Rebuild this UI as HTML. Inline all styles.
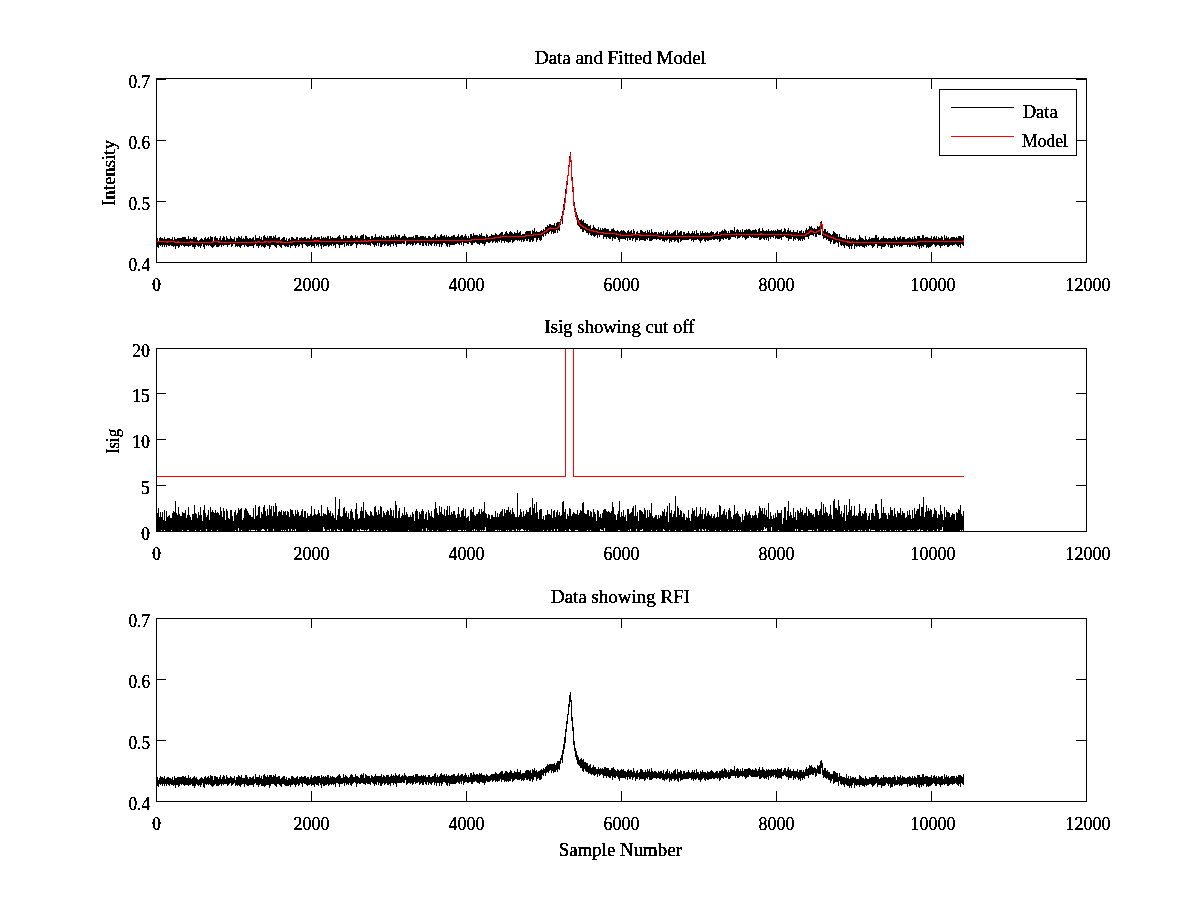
<!DOCTYPE html>
<html><head><meta charset="utf-8"><title>Data and Fitted Model</title>
<style>html,body{margin:0;padding:0;background:#fff;overflow:hidden}svg{display:block}</style></head>
<body>
<svg width="1200" height="900" viewBox="0 0 1200 900" style="font-family:'Liberation Serif','DejaVu Serif',serif;font-size:19px">
<defs><filter id="px" x="-5%" y="-20%" width="110%" height="140%" color-interpolation-filters="sRGB"><feComponentTransfer><feFuncA type="discrete" tableValues="0 0 0 1 1"/></feComponentTransfer></filter></defs>
<rect width="1200" height="900" fill="#fff"/>
<g id="ax1">
<path d="M156.5 241V245M157.5 238V247M158.5 241V248M159.5 238V245M160.5 237V246M161.5 238V245M162.5 238V247M163.5 239V245M164.5 237V247M165.5 239V245M166.5 239V247M167.5 238V245M168.5 238V246M169.5 238V246M170.5 239V245M171.5 239V246M172.5 237V246M173.5 240V247M174.5 237V246M175.5 239V249M176.5 239V246M177.5 238V246M178.5 238V248M179.5 238V247M180.5 238V245M181.5 238V246M182.5 237V245M183.5 237V246M184.5 237V247M185.5 237V246M186.5 239V246M187.5 239V246M188.5 236V247M189.5 239V246M190.5 238V246M191.5 239V245M192.5 239V247M193.5 237V247M194.5 237V249M195.5 238V247M196.5 237V245M197.5 240V246M198.5 241V247M199.5 240V246M200.5 239V248M201.5 238V246M202.5 239V244M203.5 240V247M204.5 238V249M205.5 237V245M206.5 239V246M207.5 238V245M208.5 237V246M209.5 239V245M210.5 236V246M211.5 237V247M212.5 237V248M213.5 241V247M214.5 237V246M215.5 236V245M216.5 238V247M217.5 238V247M218.5 240V247M219.5 238V246M220.5 236V245M221.5 240V247M222.5 238V245M223.5 236V246M224.5 237V245M225.5 240V245M226.5 236V245M227.5 238V247M228.5 239V245M229.5 239V245M230.5 236V244M231.5 238V247M232.5 239V246M233.5 239V244M234.5 237V244M235.5 241V247M236.5 238V246M237.5 238V247M238.5 236V246M239.5 237V247M240.5 238V248M241.5 236V246M242.5 239V245M243.5 238V245M244.5 239V247M245.5 236V245M246.5 236V246M247.5 238V247M248.5 239V247M249.5 238V246M250.5 238V246M251.5 239V246M252.5 238V246M253.5 237V248M254.5 240V245M255.5 235V244M256.5 238V246M257.5 238V246M258.5 238V248M259.5 236V246M260.5 239V245M261.5 237V247M262.5 240V246M263.5 236V247M264.5 235V248M265.5 237V247M266.5 238V245M267.5 236V246M268.5 238V246M269.5 236V249M270.5 236V247M271.5 236V245M272.5 238V245M273.5 236V245M274.5 237V246M275.5 235V247M276.5 238V248M277.5 238V245M278.5 237V245M279.5 237V246M280.5 240V247M281.5 239V248M282.5 238V245M283.5 237V245M284.5 237V246M285.5 240V247M286.5 238V246M287.5 241V247M288.5 239V247M289.5 238V245M290.5 240V248M291.5 237V246M292.5 237V246M293.5 238V245M294.5 239V246M295.5 239V248M296.5 237V246M297.5 237V245M298.5 240V247M299.5 238V246M300.5 238V244M301.5 237V245M302.5 238V248M303.5 238V244M304.5 237V244M305.5 237V245M306.5 239V246M307.5 238V247M308.5 238V246M309.5 239V246M310.5 237V245M311.5 235V247M312.5 239V246M313.5 238V246M314.5 237V248M315.5 237V244M316.5 238V246M317.5 237V245M318.5 237V247M319.5 237V244M320.5 239V246M321.5 236V249M322.5 238V245M323.5 237V247M324.5 238V246M325.5 237V246M326.5 238V246M327.5 236V245M328.5 236V247M329.5 239V246M330.5 236V245M331.5 238V246M332.5 237V244M333.5 238V246M334.5 238V245M335.5 238V248M336.5 238V244M337.5 237V244M338.5 236V245M339.5 235V248M340.5 237V245M341.5 239V245M342.5 239V245M343.5 235V244M344.5 238V247M345.5 236V243M346.5 236V246M347.5 238V245M348.5 238V246M349.5 238V244M350.5 236V246M351.5 235V246M352.5 236V245M353.5 238V244M354.5 238V243M355.5 235V244M356.5 237V248M357.5 236V245M358.5 238V244M359.5 238V244M360.5 236V245M361.5 235V244M362.5 235V244M363.5 234V245M364.5 239V244M365.5 235V245M366.5 236V244M367.5 237V245M368.5 237V245M369.5 237V245M370.5 239V246M371.5 236V243M372.5 236V244M373.5 238V245M374.5 237V247M375.5 234V245M376.5 237V246M377.5 237V243M378.5 237V246M379.5 236V243M380.5 237V247M381.5 235V247M382.5 238V245M383.5 236V244M384.5 237V246M385.5 238V245M386.5 236V244M387.5 236V246M388.5 236V246M389.5 238V245M390.5 237V247M391.5 235V244M392.5 237V244M393.5 235V246M394.5 237V243M395.5 234V245M396.5 236V247M397.5 237V244M398.5 235V244M399.5 235V244M400.5 238V244M401.5 237V244M402.5 236V243M403.5 236V244M404.5 234V244M405.5 236V241M406.5 237V246M407.5 238V245M408.5 237V244M409.5 237V244M410.5 237V245M411.5 237V244M412.5 237V246M413.5 236V245M414.5 238V243M415.5 235V245M416.5 235V244M417.5 235V243M418.5 237V243M419.5 237V245M420.5 236V245M421.5 236V243M422.5 236V246M423.5 236V246M424.5 237V243M425.5 236V245M426.5 238V246M427.5 238V243M428.5 236V246M429.5 236V244M430.5 237V245M431.5 238V246M432.5 237V244M433.5 237V243M434.5 235V246M435.5 234V244M436.5 238V246M437.5 236V244M438.5 237V244M439.5 237V247M440.5 235V244M441.5 234V247M442.5 236V245M443.5 236V243M444.5 235V243M445.5 237V244M446.5 235V246M447.5 237V247M448.5 236V244M449.5 237V247M450.5 237V245M451.5 236V245M452.5 236V245M453.5 235V245M454.5 235V245M455.5 237V244M456.5 237V244M457.5 236V243M458.5 234V244M459.5 237V245M460.5 236V243M461.5 235V245M462.5 235V242M463.5 237V246M464.5 236V243M465.5 234V243M466.5 236V243M467.5 238V244M468.5 236V244M469.5 238V242M470.5 234V243M471.5 234V245M472.5 236V245M473.5 233V243M474.5 235V243M475.5 235V242M476.5 235V243M477.5 235V244M478.5 236V244M479.5 234V245M480.5 235V243M481.5 233V243M482.5 236V244M483.5 236V244M484.5 236V246M485.5 237V244M486.5 234V242M487.5 235V242M488.5 237V243M489.5 236V243M490.5 236V242M491.5 234V241M492.5 235V243M493.5 235V242M494.5 235V241M495.5 233V243M496.5 234V242M497.5 235V243M498.5 235V241M499.5 234V242M500.5 233V240M501.5 232V243M502.5 232V241M503.5 235V241M504.5 234V243M505.5 232V241M506.5 231V242M507.5 233V242M508.5 234V243M509.5 232V242M510.5 231V242M511.5 232V240M512.5 233V243M513.5 234V242M514.5 232V241M515.5 233V240M516.5 233V240M517.5 230V241M518.5 233V240M519.5 232V241M520.5 231V240M521.5 235V242M522.5 234V240M523.5 234V242M524.5 234V241M525.5 232V239M526.5 231V241M527.5 231V241M528.5 231V239M529.5 231V242M530.5 231V242M531.5 234V240M532.5 230V242M533.5 231V241M534.5 228V238M535.5 232V238M536.5 231V242M537.5 232V240M538.5 232V238M539.5 232V240M540.5 231V241M541.5 230V240M542.5 231V236M543.5 229V237M544.5 230V234M545.5 227V236M546.5 227V234M547.5 225V233M548.5 226V234M549.5 224V232M550.5 224V231M551.5 225V234M552.5 225V232M553.5 225V234M554.5 223V233M555.5 226V233M556.5 223V230M557.5 222V233M558.5 222V230M559.5 222V231M560.5 219V225M561.5 216V221M562.5 211V224M563.5 204V215M564.5 198V210M565.5 189V203M566.5 181V193M567.5 175V185M568.5 165V176M569.5 156V167M570.5 152V162M571.5 160V181M572.5 177V192M573.5 187V206M574.5 202V212M575.5 208V217M576.5 212V220M577.5 215V225M578.5 218V226M579.5 220V227M580.5 220V229M581.5 219V229M582.5 221V232M583.5 220V232M584.5 223V230M585.5 223V231M586.5 224V233M587.5 224V233M588.5 226V235M589.5 226V233M590.5 225V235M591.5 229V236M592.5 228V235M593.5 225V236M594.5 227V237M595.5 228V236M596.5 229V235M597.5 229V238M598.5 227V235M599.5 230V237M600.5 228V235M601.5 230V235M602.5 228V235M603.5 229V239M604.5 228V237M605.5 228V237M606.5 229V239M607.5 229V237M608.5 229V238M609.5 231V239M610.5 231V239M611.5 229V237M612.5 229V241M613.5 228V238M614.5 230V239M615.5 231V239M616.5 231V237M617.5 230V238M618.5 231V240M619.5 232V242M620.5 231V239M621.5 230V239M622.5 231V239M623.5 230V239M624.5 231V239M625.5 232V240M626.5 233V238M627.5 231V241M628.5 230V238M629.5 232V240M630.5 231V240M631.5 230V238M632.5 233V241M633.5 229V239M634.5 231V238M635.5 234V242M636.5 232V240M637.5 231V240M638.5 233V238M639.5 233V241M640.5 230V240M641.5 230V240M642.5 231V240M643.5 232V240M644.5 232V241M645.5 231V241M646.5 233V239M647.5 230V240M648.5 232V238M649.5 230V241M650.5 233V241M651.5 229V241M652.5 232V240M653.5 233V239M654.5 232V239M655.5 232V239M656.5 232V240M657.5 234V239M658.5 232V239M659.5 233V240M660.5 232V240M661.5 232V239M662.5 234V241M663.5 231V241M664.5 235V242M665.5 233V240M666.5 232V241M667.5 230V240M668.5 234V239M669.5 232V243M670.5 234V241M671.5 233V242M672.5 233V240M673.5 232V240M674.5 231V242M675.5 230V241M676.5 235V240M677.5 230V242M678.5 233V243M679.5 232V239M680.5 231V242M681.5 231V241M682.5 235V240M683.5 232V240M684.5 232V240M685.5 234V240M686.5 233V240M687.5 233V240M688.5 231V240M689.5 233V239M690.5 234V239M691.5 233V241M692.5 231V240M693.5 233V242M694.5 231V240M695.5 234V240M696.5 230V240M697.5 233V239M698.5 233V240M699.5 235V241M700.5 231V243M701.5 233V241M702.5 231V240M703.5 233V239M704.5 233V241M705.5 232V242M706.5 233V240M707.5 232V241M708.5 233V241M709.5 233V240M710.5 232V240M711.5 231V240M712.5 232V239M713.5 232V240M714.5 234V240M715.5 233V239M716.5 232V239M717.5 231V240M718.5 234V239M719.5 232V242M720.5 232V241M721.5 231V239M722.5 230V239M723.5 231V240M724.5 229V238M725.5 230V239M726.5 231V239M727.5 233V238M728.5 231V240M729.5 233V240M730.5 230V239M731.5 230V237M732.5 230V237M733.5 231V237M734.5 227V237M735.5 232V238M736.5 230V236M737.5 229V239M738.5 230V238M739.5 232V238M740.5 230V237M741.5 232V236M742.5 229V238M743.5 232V237M744.5 230V238M745.5 230V240M746.5 229V239M747.5 230V238M748.5 229V238M749.5 229V236M750.5 230V237M751.5 231V238M752.5 230V237M753.5 230V238M754.5 230V238M755.5 229V238M756.5 230V238M757.5 232V238M758.5 229V237M759.5 228V240M760.5 231V240M761.5 231V239M762.5 228V238M763.5 230V239M764.5 231V240M765.5 231V238M766.5 230V240M767.5 231V238M768.5 229V241M769.5 231V237M770.5 231V239M771.5 230V237M772.5 231V237M773.5 230V238M774.5 231V236M775.5 230V239M776.5 231V238M777.5 229V239M778.5 230V239M779.5 230V239M780.5 230V238M781.5 229V240M782.5 232V237M783.5 231V237M784.5 228V236M785.5 229V237M786.5 232V238M787.5 230V238M788.5 228V241M789.5 231V239M790.5 230V239M791.5 232V239M792.5 232V237M793.5 230V241M794.5 232V239M795.5 232V240M796.5 232V238M797.5 230V239M798.5 233V241M799.5 231V240M800.5 231V241M801.5 230V239M802.5 233V241M803.5 231V239M804.5 233V240M805.5 230V237M806.5 228V237M807.5 230V237M808.5 229V239M809.5 226V236M810.5 227V235M811.5 226V235M812.5 228V235M813.5 229V236M814.5 228V234M815.5 229V237M816.5 229V237M817.5 226V234M818.5 227V235M819.5 226V235M820.5 222V235M821.5 221V229M822.5 224V236M823.5 231V239M824.5 229V238M825.5 229V238M826.5 232V240M827.5 231V239M828.5 233V241M829.5 233V241M830.5 234V244M831.5 235V242M832.5 234V240M833.5 231V244M834.5 232V244M835.5 233V243M836.5 234V242M837.5 234V243M838.5 237V247M839.5 234V242M840.5 237V245M841.5 237V246M842.5 238V245M843.5 238V246M844.5 238V248M845.5 239V245M846.5 235V246M847.5 239V246M848.5 237V247M849.5 239V249M850.5 237V246M851.5 239V249M852.5 238V246M853.5 238V244M854.5 239V249M855.5 238V246M856.5 240V247M857.5 240V246M858.5 239V246M859.5 235V247M860.5 237V246M861.5 238V246M862.5 238V247M863.5 239V247M864.5 240V248M865.5 236V246M866.5 239V247M867.5 240V245M868.5 239V246M869.5 237V245M870.5 239V245M871.5 238V246M872.5 238V248M873.5 238V247M874.5 238V246M875.5 235V244M876.5 235V244M877.5 238V248M878.5 237V246M879.5 240V246M880.5 239V246M881.5 238V249M882.5 238V247M883.5 236V247M884.5 238V247M885.5 238V246M886.5 238V244M887.5 239V245M888.5 238V247M889.5 238V245M890.5 238V248M891.5 239V248M892.5 238V248M893.5 238V245M894.5 236V247M895.5 238V245M896.5 240V246M897.5 237V246M898.5 238V245M899.5 237V247M900.5 236V246M901.5 239V247M902.5 237V246M903.5 237V245M904.5 237V245M905.5 239V245M906.5 239V245M907.5 238V247M908.5 238V245M909.5 237V247M910.5 238V247M911.5 239V245M912.5 237V246M913.5 239V245M914.5 236V246M915.5 238V246M916.5 239V247M917.5 236V245M918.5 236V247M919.5 236V249M920.5 238V246M921.5 238V248M922.5 235V246M923.5 235V247M924.5 238V245M925.5 237V245M926.5 237V248M927.5 237V247M928.5 238V248M929.5 238V247M930.5 238V247M931.5 236V246M932.5 239V245M933.5 237V244M934.5 236V245M935.5 238V247M936.5 236V246M937.5 239V245M938.5 237V245M939.5 238V246M940.5 238V248M941.5 236V246M942.5 237V246M943.5 240V245M944.5 235V246M945.5 238V245M946.5 236V245M947.5 238V247M948.5 237V247M949.5 239V246M950.5 238V245M951.5 237V245M952.5 237V246M953.5 237V245M954.5 237V245M955.5 238V244M956.5 237V245M957.5 238V246M958.5 236V247M959.5 236V245M960.5 236V248M961.5 237V244M962.5 238V245M963.5 235V246" stroke="#000" stroke-width="1" fill="none" shape-rendering="crispEdges"/>
<path d="M156.5 241V242M157.5 241V242M158.5 241V242M159.5 241V242M160.5 241V242M161.5 241V242M162.5 241V242M163.5 241V242M164.5 241V242M165.5 241V242M166.5 241V243M167.5 241V243M168.5 241V242M169.5 241V242M170.5 241V242M171.5 241V242M172.5 241V242M173.5 241V242M174.5 241V243M175.5 242V243M176.5 242V243M177.5 241V243M178.5 241V243M179.5 242V243M180.5 242V243M181.5 242V243M182.5 242V243M183.5 242V243M184.5 242V243M185.5 242V243M186.5 242V243M187.5 242V243M188.5 242V243M189.5 242V243M190.5 241V243M191.5 241V243M192.5 241V243M193.5 242V243M194.5 242V243M195.5 242V243M196.5 242V243M197.5 242V243M198.5 242V243M199.5 242V243M200.5 242V243M201.5 242V243M202.5 242V243M203.5 242V243M204.5 242V243M205.5 242V243M206.5 242V243M207.5 242V243M208.5 242V243M209.5 242V243M210.5 242V243M211.5 242V243M212.5 241V243M213.5 241V242M214.5 241V242M215.5 241V242M216.5 241V242M217.5 241V242M218.5 241V243M219.5 241V243M220.5 242V243M221.5 242V243M222.5 242V243M223.5 242V243M224.5 242V243M225.5 242V243M226.5 242V243M227.5 242V243M228.5 242V243M229.5 242V243M230.5 242V243M231.5 242V243M232.5 242V243M233.5 242V243M234.5 242V243M235.5 242V243M236.5 242V243M237.5 242V243M238.5 242V243M239.5 242V243M240.5 242V243M241.5 242V243M242.5 242V243M243.5 242V243M244.5 242V243M245.5 242V243M246.5 242V243M247.5 242V243M248.5 242V243M249.5 242V243M250.5 242V243M251.5 242V243M252.5 242V243M253.5 242V243M254.5 242V243M255.5 241V243M256.5 242V243M257.5 241V243M258.5 241V242M259.5 241V243M260.5 242V243M261.5 242V243M262.5 242V243M263.5 242V243M264.5 241V243M265.5 241V243M266.5 241V242M267.5 241V242M268.5 241V243M269.5 242V243M270.5 241V243M271.5 241V242M272.5 241V242M273.5 241V242M274.5 241V242M275.5 241V242M276.5 241V243M277.5 241V243M278.5 241V243M279.5 241V242M280.5 241V243M281.5 241V243M282.5 242V243M283.5 242V243M284.5 242V243M285.5 242V243M286.5 242V243M287.5 242V243M288.5 242V243M289.5 242V243M290.5 241V243M291.5 242V243M292.5 241V243M293.5 241V242M294.5 241V242M295.5 241V242M296.5 241V242M297.5 241V242M298.5 241V242M299.5 241V242M300.5 241V242M301.5 241V242M302.5 241V242M303.5 241V242M304.5 241V242M305.5 241V242M306.5 241V242M307.5 241V242M308.5 241V242M309.5 241V242M310.5 241V242M311.5 241V242M312.5 241V242M313.5 241V242M314.5 240V242M315.5 240V242M316.5 240V242M317.5 240V242M318.5 240V242M319.5 241V242M320.5 241V242M321.5 241V242M322.5 241V242M323.5 241V242M324.5 241V242M325.5 241V242M326.5 241V242M327.5 241V242M328.5 241V242M329.5 241V242M330.5 241V242M331.5 241V242M332.5 241V242M333.5 241V242M334.5 241V242M335.5 241V242M336.5 241V242M337.5 241V242M338.5 241V242M339.5 241V242M340.5 241V242M341.5 241V242M342.5 241V242M343.5 241V242M344.5 241V242M345.5 241V242M346.5 241V242M347.5 241V242M348.5 241V242M349.5 241V242M350.5 241V242M351.5 241V242M352.5 241V242M353.5 241V242M354.5 241V242M355.5 241V242M356.5 240V242M357.5 241V242M358.5 241V242M359.5 241V242M360.5 241V242M361.5 240V242M362.5 241V242M363.5 241V242M364.5 240V242M365.5 240V242M366.5 241V242M367.5 241V242M368.5 240V242M369.5 240V241M370.5 240V242M371.5 240V241M372.5 240V241M373.5 240V241M374.5 240V241M375.5 240V241M376.5 240V241M377.5 240V241M378.5 240V241M379.5 240V241M380.5 240V241M381.5 240V241M382.5 240V241M383.5 240V241M384.5 240V241M385.5 240V241M386.5 240V241M387.5 240V241M388.5 240V241M389.5 240V241M390.5 240V241M391.5 240V241M392.5 240V241M393.5 240V241M394.5 240V241M395.5 240V241M396.5 240V241M397.5 240V241M398.5 240V241M399.5 240V241M400.5 240V241M401.5 240V241M402.5 240V241M403.5 240V241M404.5 240V241M405.5 240V241M406.5 240V241M407.5 240V241M408.5 240V241M409.5 240V241M410.5 240V241M411.5 240V241M412.5 240V241M413.5 240V241M414.5 240V241M415.5 240V241M416.5 240V241M417.5 240V241M418.5 240V241M419.5 240V241M420.5 240V241M421.5 240V241M422.5 240V241M423.5 240V241M424.5 240V241M425.5 240V241M426.5 240V241M427.5 240V241M428.5 240V241M429.5 240V241M430.5 240V241M431.5 240V241M432.5 240V241M433.5 240V241M434.5 240V241M435.5 240V241M436.5 240V241M437.5 240V241M438.5 240V241M439.5 240V241M440.5 240V241M441.5 240V241M442.5 240V241M443.5 240V241M444.5 240V241M445.5 240V241M446.5 240V241M447.5 240V241M448.5 240V241M449.5 240V241M450.5 240V241M451.5 240V241M452.5 240V241M453.5 240V241M454.5 240V241M455.5 240V241M456.5 240V241M457.5 240V241M458.5 240V241M459.5 240V241M460.5 240V241M461.5 240V241M462.5 240V241M463.5 240V241M464.5 240V241M465.5 240V241M466.5 240V241M467.5 240V241M468.5 240V241M469.5 240V241M470.5 240V241M471.5 239V241M472.5 239V240M473.5 239V240M474.5 239V240M475.5 239V240M476.5 239V240M477.5 239V240M478.5 239V240M479.5 239V240M480.5 239V240M481.5 239V240M482.5 239V240M483.5 239V240M484.5 239V240M485.5 238V240M486.5 238V239M487.5 238V239M488.5 238V239M489.5 238V239M490.5 238V239M491.5 238V239M492.5 238V239M493.5 238V239M494.5 237V239M495.5 237V238M496.5 237V238M497.5 237V238M498.5 237V238M499.5 237V238M500.5 236V238M501.5 236V237M502.5 236V237M503.5 236V237M504.5 236V237M505.5 236V237M506.5 236V237M507.5 236V237M508.5 236V237M509.5 236V237M510.5 236V237M511.5 236V237M512.5 236V237M513.5 236V237M514.5 236V237M515.5 236V237M516.5 236V237M517.5 236V237M518.5 236V237M519.5 236V237M520.5 236V237M521.5 236V237M522.5 236V237M523.5 236V237M524.5 236V237M525.5 235V237M526.5 235V236M527.5 235V236M528.5 235V236M529.5 235V236M530.5 235V236M531.5 235V236M532.5 235V236M533.5 234V236M534.5 234V235M535.5 234V235M536.5 234V235M537.5 234V235M538.5 234V235M539.5 234V235M540.5 234V235M541.5 233V235M542.5 233V234M543.5 232V234M544.5 231V233M545.5 231V232M546.5 230V232M547.5 229V231M548.5 228V230M549.5 228V229M550.5 227V229M551.5 228V229M552.5 228V229M553.5 228V229M554.5 228V229M555.5 228V229M556.5 228V229M557.5 227V229M558.5 226V228M559.5 223V227M560.5 220V224M561.5 218V221M562.5 213V219M563.5 207V214M564.5 202V208M565.5 193V203M566.5 182V194M567.5 175V183M568.5 166V176M569.5 158V167M570.5 153V161M571.5 160V181M572.5 179V190M573.5 188V205M574.5 204V211M575.5 210V216M576.5 215V220M577.5 219V221M578.5 220V223M579.5 222V225M580.5 224V226M581.5 225V226M582.5 225V227M583.5 226V228M584.5 227V228M585.5 227V229M586.5 228V230M587.5 229V230M588.5 229V230M589.5 229V231M590.5 230V231M591.5 230V231M592.5 230V231M593.5 230V232M594.5 231V232M595.5 231V232M596.5 231V232M597.5 231V233M598.5 232V233M599.5 232V233M600.5 232V233M601.5 232V233M602.5 232V233M603.5 232V234M604.5 233V234M605.5 233V234M606.5 233V234M607.5 233V234M608.5 233V234M609.5 233V234M610.5 233V234M611.5 233V234M612.5 233V234M613.5 233V234M614.5 233V234M615.5 233V234M616.5 233V235M617.5 234V235M618.5 234V235M619.5 234V235M620.5 234V236M621.5 235V236M622.5 235V236M623.5 235V236M624.5 235V236M625.5 235V236M626.5 235V236M627.5 235V236M628.5 235V236M629.5 235V236M630.5 235V236M631.5 234V236M632.5 234V236M633.5 234V235M634.5 234V235M635.5 234V235M636.5 234V235M637.5 234V235M638.5 234V235M639.5 234V236M640.5 234V236M641.5 235V236M642.5 235V236M643.5 235V236M644.5 235V236M645.5 235V236M646.5 235V236M647.5 235V236M648.5 235V236M649.5 235V236M650.5 235V236M651.5 235V236M652.5 235V236M653.5 235V236M654.5 235V236M655.5 235V236M656.5 235V236M657.5 235V236M658.5 235V237M659.5 236V237M660.5 236V237M661.5 236V237M662.5 236V237M663.5 236V237M664.5 236V237M665.5 236V237M666.5 236V237M667.5 236V237M668.5 236V237M669.5 236V237M670.5 236V237M671.5 236V237M672.5 236V237M673.5 236V237M674.5 236V237M675.5 236V237M676.5 236V237M677.5 236V237M678.5 236V237M679.5 236V237M680.5 236V237M681.5 236V237M682.5 236V237M683.5 236V237M684.5 236V237M685.5 236V237M686.5 236V237M687.5 236V237M688.5 236V237M689.5 236V237M690.5 236V237M691.5 236V237M692.5 236V237M693.5 236V237M694.5 236V237M695.5 236V237M696.5 236V237M697.5 236V237M698.5 236V237M699.5 236V237M700.5 236V237M701.5 236V237M702.5 236V237M703.5 236V237M704.5 236V237M705.5 236V237M706.5 236V237M707.5 236V237M708.5 236V237M709.5 236V237M710.5 236V237M711.5 236V237M712.5 235V237M713.5 235V236M714.5 235V236M715.5 235V236M716.5 235V236M717.5 235V236M718.5 235V236M719.5 235V236M720.5 234V236M721.5 234V235M722.5 234V235M723.5 234V235M724.5 234V235M725.5 234V235M726.5 234V235M727.5 234V235M728.5 234V235M729.5 234V235M730.5 234V235M731.5 234V235M732.5 234V235M733.5 234V235M734.5 234V235M735.5 234V235M736.5 233V235M737.5 234V235M738.5 234V235M739.5 234V235M740.5 234V235M741.5 234V235M742.5 234V235M743.5 234V235M744.5 234V235M745.5 234V235M746.5 234V235M747.5 234V235M748.5 234V235M749.5 234V235M750.5 234V235M751.5 234V235M752.5 234V235M753.5 234V235M754.5 234V235M755.5 234V235M756.5 234V235M757.5 234V235M758.5 234V235M759.5 234V235M760.5 233V235M761.5 233V235M762.5 234V235M763.5 234V235M764.5 234V235M765.5 234V235M766.5 234V235M767.5 234V235M768.5 234V235M769.5 234V235M770.5 234V235M771.5 234V235M772.5 234V235M773.5 234V235M774.5 234V235M775.5 234V235M776.5 234V235M777.5 234V235M778.5 234V235M779.5 234V235M780.5 234V235M781.5 234V235M782.5 234V235M783.5 234V235M784.5 234V235M785.5 234V235M786.5 234V235M787.5 234V235M788.5 234V235M789.5 234V235M790.5 234V235M791.5 234V236M792.5 235V236M793.5 235V236M794.5 235V236M795.5 235V236M796.5 235V236M797.5 235V236M798.5 235V236M799.5 235V236M800.5 235V236M801.5 235V236M802.5 235V236M803.5 235V236M804.5 235V236M805.5 234V236M806.5 233V235M807.5 233V234M808.5 232V234M809.5 231V233M810.5 230V232M811.5 230V232M812.5 231V232M813.5 231V233M814.5 232V233M815.5 232V233M816.5 231V233M817.5 231V232M818.5 230V232M819.5 230V231M820.5 223V231M821.5 223V225M822.5 224V234M823.5 233V235M824.5 234V235M825.5 234V236M826.5 235V236M827.5 235V237M828.5 236V237M829.5 236V237M830.5 236V238M831.5 237V238M832.5 237V238M833.5 237V239M834.5 238V239M835.5 238V240M836.5 239V240M837.5 239V240M838.5 239V240M839.5 239V241M840.5 240V241M841.5 240V241M842.5 240V241M843.5 240V242M844.5 241V242M845.5 241V242M846.5 241V242M847.5 241V243M848.5 241V243M849.5 241V243M850.5 242V243M851.5 242V243M852.5 241V243M853.5 242V243M854.5 242V243M855.5 242V243M856.5 242V243M857.5 242V243M858.5 242V243M859.5 242V243M860.5 242V243M861.5 242V243M862.5 242V243M863.5 242V243M864.5 242V243M865.5 242V243M866.5 242V243M867.5 242V243M868.5 242V243M869.5 242V243M870.5 242V243M871.5 242V243M872.5 242V243M873.5 242V243M874.5 242V243M875.5 242V243M876.5 242V243M877.5 242V243M878.5 242V243M879.5 242V243M880.5 242V243M881.5 242V243M882.5 242V243M883.5 242V243M884.5 242V243M885.5 242V243M886.5 242V243M887.5 242V243M888.5 242V243M889.5 242V243M890.5 242V243M891.5 242V243M892.5 242V243M893.5 242V243M894.5 242V243M895.5 242V243M896.5 242V243M897.5 242V243M898.5 242V243M899.5 242V243M900.5 242V243M901.5 242V243M902.5 242V243M903.5 242V243M904.5 242V243M905.5 242V243M906.5 242V243M907.5 242V243M908.5 242V243M909.5 242V243M910.5 242V243M911.5 242V243M912.5 242V243M913.5 242V243M914.5 242V243M915.5 242V243M916.5 242V243M917.5 241V243M918.5 241V242M919.5 241V242M920.5 241V242M921.5 241V242M922.5 241V242M923.5 241V242M924.5 241V242M925.5 241V242M926.5 241V242M927.5 241V242M928.5 241V242M929.5 241V242M930.5 241V242M931.5 241V242M932.5 241V242M933.5 241V242M934.5 241V242M935.5 241V242M936.5 241V242M937.5 241V242M938.5 241V242M939.5 241V242M940.5 241V242M941.5 241V242M942.5 241V242M943.5 241V242M944.5 241V242M945.5 241V242M946.5 241V242M947.5 241V242M948.5 241V242M949.5 241V242M950.5 241V242M951.5 241V242M952.5 241V242M953.5 241V242M954.5 241V242M955.5 241V242M956.5 241V242M957.5 241V242M958.5 241V242M959.5 241V242M960.5 241V242M961.5 241V242M962.5 241V242M963.5 240V242" stroke="#f00" stroke-width="1" fill="none" shape-rendering="crispEdges"/>
<path d="M156.5 78V263M1086.5 78V263M156 78.5H1087M156 262.5H1087M311.5 263V252M311.5 78V89M466.5 263V252M466.5 78V89M621.5 263V252M621.5 78V89M776.5 263V252M776.5 78V89M931.5 263V252M931.5 78V89M156 140.5H166M1087 140.5H1076M156 201.5H166M1087 201.5H1076M156 79.5H166M1087 79.5H1076" stroke="#000" stroke-width="1" fill="none" shape-rendering="crispEdges"/>
<g filter="url(#px)" stroke="#000" stroke-width="0.5">
<text x="156.5" y="291" text-anchor="middle" textLength="9" lengthAdjust="spacingAndGlyphs">0</text><text x="311.5" y="291" text-anchor="middle" textLength="36" lengthAdjust="spacingAndGlyphs">2000</text><text x="466.5" y="291" text-anchor="middle" textLength="36" lengthAdjust="spacingAndGlyphs">4000</text><text x="621.5" y="291" text-anchor="middle" textLength="36" lengthAdjust="spacingAndGlyphs">6000</text><text x="776.5" y="291" text-anchor="middle" textLength="36" lengthAdjust="spacingAndGlyphs">8000</text><text x="933.1" y="291" text-anchor="middle" textLength="45" lengthAdjust="spacingAndGlyphs">10000</text><text x="1088.1" y="291" text-anchor="middle" textLength="45" lengthAdjust="spacingAndGlyphs">12000</text>
<text x="150" y="88" text-anchor="end" textLength="21.5" lengthAdjust="spacingAndGlyphs">0.7</text><text x="150" y="149" text-anchor="end" textLength="21.5" lengthAdjust="spacingAndGlyphs">0.6</text><text x="150" y="210" text-anchor="end" textLength="21.5" lengthAdjust="spacingAndGlyphs">0.5</text><text x="150" y="271" text-anchor="end" textLength="21.5" lengthAdjust="spacingAndGlyphs">0.4</text>
<text x="620.5" y="64" text-anchor="middle" textLength="171" lengthAdjust="spacingAndGlyphs">Data and Fitted Model</text>
<text transform="translate(115 173) rotate(-90)" text-anchor="middle" textLength="66" lengthAdjust="spacingAndGlyphs">Intensity</text>
</g>
<rect x="939.5" y="89.5" width="137" height="66" fill="#fff" stroke="#000" stroke-width="1" shape-rendering="crispEdges"/>
<path d="M951 107.5H1014" stroke="#000" stroke-width="1" shape-rendering="crispEdges"/>
<path d="M951 136.5H1014" stroke="#f00" stroke-width="1" shape-rendering="crispEdges"/>
<g filter="url(#px)" stroke="#000" stroke-width="0.5"><text x="1022.7" y="118" textLength="35" lengthAdjust="spacingAndGlyphs">Data</text><text x="1022" y="147" textLength="46" lengthAdjust="spacingAndGlyphs">Model</text></g>
</g>
<g id="ax2">
<path d="M156.5 522V532M157.5 513V531M158.5 508V531M159.5 517V531M160.5 512V531M161.5 517V530M162.5 512V531M163.5 520V532M164.5 510V530M165.5 521V531M166.5 511V531M167.5 517V531M168.5 516V532M169.5 515V531M170.5 518V531M171.5 518V530M172.5 513V532M173.5 511V531M174.5 512V531M175.5 501V532M176.5 513V531M177.5 515V532M178.5 507V532M179.5 514V531M180.5 516V531M181.5 516V532M182.5 512V530M183.5 513V531M184.5 513V531M185.5 510V531M186.5 518V531M187.5 515V530M188.5 507V530M189.5 515V531M190.5 517V532M191.5 520V531M192.5 514V531M193.5 514V531M194.5 505V531M195.5 513V530M196.5 514V531M197.5 518V532M198.5 512V531M199.5 515V531M200.5 507V530M201.5 515V531M202.5 521V531M203.5 510V531M204.5 505V532M205.5 513V531M206.5 517V529M207.5 515V531M208.5 510V531M209.5 520V531M210.5 507V531M211.5 512V530M212.5 510V531M213.5 512V531M214.5 513V531M215.5 510V531M216.5 513V531M217.5 512V530M218.5 513V531M219.5 515V531M220.5 507V531M221.5 511V531M222.5 517V531M223.5 508V531M224.5 511V532M225.5 520V531M226.5 509V531M227.5 511V531M228.5 518V531M229.5 519V531M230.5 510V531M231.5 510V531M232.5 516V531M233.5 521V531M234.5 512V531M235.5 510V530M236.5 515V531M237.5 513V531M238.5 508V528M239.5 510V531M240.5 509V532M241.5 508V530M242.5 520V531M243.5 518V531M244.5 510V531M245.5 508V532M246.5 509V531M247.5 511V531M248.5 513V532M249.5 515V530M250.5 515V531M251.5 517V530M252.5 517V530M253.5 508V530M254.5 519V530M255.5 505V531M256.5 516V530M257.5 515V531M258.5 507V531M259.5 506V531M260.5 518V531M261.5 512V530M262.5 514V529M263.5 507V529M264.5 505V530M265.5 511V531M266.5 516V531M267.5 509V529M268.5 515V531M269.5 505V531M270.5 509V531M271.5 506V531M272.5 516V531M273.5 506V529M274.5 512V531M275.5 503V531M276.5 506V532M277.5 516V531M278.5 512V532M279.5 511V531M280.5 512V531M281.5 510V530M282.5 515V531M283.5 511V530M284.5 512V531M285.5 511V530M286.5 515V531M287.5 511V532M288.5 512V529M289.5 517V531M290.5 509V531M291.5 510V529M292.5 510V531M293.5 514V530M294.5 516V531M295.5 510V529M296.5 514V531M297.5 510V531M298.5 512V532M299.5 516V531M300.5 515V532M301.5 511V531M302.5 509V531M303.5 517V532M304.5 511V531M305.5 511V531M306.5 518V531M307.5 513V531M308.5 516V530M309.5 516V531M310.5 514V532M311.5 506V531M312.5 516V531M313.5 515V532M314.5 509V531M315.5 514V531M316.5 515V532M317.5 514V531M318.5 510V531M319.5 513V532M320.5 516V531M321.5 505V531M322.5 516V531M323.5 513V527M324.5 514V529M325.5 514V532M326.5 515V531M327.5 507V530M328.5 510V530M329.5 513V531M330.5 511V529M331.5 516V531M332.5 513V531M333.5 515V532M334.5 518V530M335.5 497V531M336.5 520V532M337.5 515V529M338.5 509V530M339.5 499V530M340.5 516V531M341.5 517V531M342.5 516V529M343.5 508V531M344.5 507V531M345.5 513V531M346.5 511V532M347.5 517V531M348.5 513V532M349.5 519V531M350.5 511V531M351.5 509V531M352.5 512V529M353.5 518V532M354.5 520V531M355.5 509V531M356.5 503V531M357.5 514V530M358.5 519V530M359.5 518V531M360.5 511V529M361.5 507V530M362.5 511V530M363.5 502V530M364.5 518V531M365.5 510V530M366.5 512V531M367.5 514V530M368.5 515V529M369.5 516V531M370.5 511V531M371.5 512V531M372.5 515V531M373.5 516V531M374.5 507V530M375.5 506V531M376.5 512V532M377.5 515V530M378.5 510V532M379.5 514V531M380.5 506V531M381.5 507V530M382.5 517V531M383.5 511V531M384.5 513V531M385.5 515V532M386.5 512V530M387.5 510V531M388.5 511V531M389.5 515V531M390.5 508V531M391.5 510V531M392.5 516V532M393.5 510V531M394.5 518V531M395.5 501V532M396.5 505V531M397.5 518V531M398.5 511V531M399.5 508V531M400.5 518V531M401.5 516V531M402.5 513V531M403.5 515V531M404.5 507V531M405.5 515V531M406.5 512V531M407.5 514V532M408.5 517V530M409.5 517V531M410.5 515V531M411.5 517V531M412.5 512V531M413.5 514V531M414.5 521V532M415.5 511V531M416.5 509V531M417.5 511V531M418.5 519V532M419.5 512V531M420.5 514V532M421.5 511V531M422.5 509V529M423.5 511V531M424.5 519V532M425.5 514V531M426.5 512V528M427.5 520V532M428.5 510V530M429.5 513V531M430.5 516V531M431.5 511V531M432.5 517V530M433.5 518V532M434.5 509V531M435.5 502V531M436.5 508V531M437.5 513V530M438.5 515V531M439.5 506V531M440.5 512V531M441.5 507V531M442.5 514V531M443.5 515V531M444.5 509V531M445.5 516V531M446.5 510V532M447.5 506V530M448.5 515V530M449.5 506V531M450.5 515V530M451.5 512V531M452.5 514V531M453.5 511V531M454.5 511V531M455.5 515V532M456.5 518V531M457.5 514V531M458.5 507V530M459.5 514V530M460.5 517V530M461.5 511V531M462.5 510V532M463.5 508V530M464.5 516V531M465.5 509V530M466.5 518V531M467.5 517V532M468.5 516V531M469.5 521V532M470.5 510V531M471.5 509V531M472.5 512V530M473.5 507V532M474.5 515V529M475.5 516V531M476.5 514V530M477.5 514V532M478.5 512V531M479.5 509V532M480.5 514V530M481.5 509V531M482.5 512V530M483.5 511V531M484.5 502V530M485.5 513V527M486.5 514V531M487.5 518V531M488.5 514V531M489.5 515V531M490.5 519V531M491.5 515V532M492.5 515V531M493.5 517V531M494.5 517V531M495.5 511V530M496.5 517V530M497.5 513V532M498.5 517V530M499.5 514V531M500.5 512V530M501.5 511V532M502.5 509V531M503.5 516V531M504.5 509V531M505.5 513V531M506.5 510V530M507.5 510V531M508.5 507V530M509.5 512V532M510.5 510V531M511.5 514V531M512.5 508V530M513.5 512V530M514.5 514V532M515.5 517V532M516.5 517V529M517.5 493V531M518.5 517V530M519.5 515V531M520.5 509V530M521.5 512V529M522.5 517V529M523.5 511V530M524.5 516V531M525.5 514V530M526.5 510V532M527.5 512V531M528.5 512V530M529.5 508V531M530.5 507V531M531.5 515V531M532.5 498V531M533.5 508V532M534.5 504V531M535.5 513V531M536.5 502V531M537.5 512V531M538.5 519V531M539.5 510V531M540.5 509V531M541.5 509V532M542.5 519V531M543.5 516V530M544.5 520V531M545.5 515V531M546.5 515V531M547.5 510V530M548.5 514V531M549.5 514V531M550.5 515V531M551.5 509V530M552.5 518V531M553.5 511V531M554.5 510V529M555.5 517V531M556.5 512V531M557.5 510V529M558.5 515V531M559.5 512V531M560.5 516V531M561.5 515V532M562.5 502V531M563.5 501V531M564.5 512V531M565.5 509V530M566.5 519V531M567.5 514V531M568.5 516V531M569.5 508V529M570.5 509V530M571.5 516V531M572.5 514V532M573.5 512V531M574.5 513V531M575.5 514V530M576.5 514V530M577.5 510V530M578.5 515V531M579.5 513V532M580.5 510V531M581.5 511V532M582.5 503V531M583.5 502V531M584.5 513V531M585.5 514V531M586.5 514V531M587.5 510V530M588.5 510V532M589.5 516V532M590.5 511V530M591.5 512V531M592.5 517V531M593.5 509V532M594.5 512V532M595.5 514V531M596.5 521V532M597.5 510V532M598.5 511V531M599.5 517V531M600.5 514V529M601.5 518V530M602.5 513V530M603.5 510V531M604.5 509V528M605.5 509V531M606.5 511V531M607.5 512V531M608.5 511V531M609.5 512V531M610.5 513V531M611.5 511V531M612.5 502V531M613.5 507V531M614.5 514V531M615.5 515V532M616.5 520V531M617.5 514V531M618.5 511V530M619.5 501V530M620.5 517V531M621.5 512V531M622.5 516V531M623.5 510V531M624.5 517V531M625.5 515V531M626.5 521V531M627.5 509V531M628.5 509V530M629.5 514V531M630.5 513V529M631.5 512V531M632.5 508V531M633.5 506V531M634.5 516V532M635.5 505V532M636.5 516V529M637.5 512V531M638.5 521V531M639.5 510V531M640.5 510V530M641.5 511V530M642.5 512V529M643.5 514V531M644.5 508V531M645.5 510V532M646.5 518V531M647.5 510V531M648.5 517V531M649.5 510V532M650.5 513V531M651.5 503V530M652.5 516V531M653.5 518V531M654.5 517V532M655.5 515V531M656.5 515V530M657.5 519V532M658.5 515V531M659.5 518V531M660.5 515V532M661.5 516V531M662.5 511V531M663.5 512V529M664.5 509V530M665.5 516V531M666.5 512V531M667.5 506V531M668.5 522V532M669.5 503V530M670.5 513V531M671.5 510V532M672.5 517V531M673.5 514V531M674.5 511V531M675.5 496V530M676.5 517V531M677.5 506V531M678.5 508V531M679.5 515V531M680.5 510V531M681.5 511V530M682.5 517V531M683.5 513V531M684.5 514V531M685.5 520V531M686.5 517V531M687.5 518V532M688.5 510V531M689.5 518V531M690.5 521V532M691.5 514V531M692.5 508V531M693.5 511V531M694.5 510V530M695.5 516V530M696.5 507V531M697.5 517V531M698.5 516V531M699.5 514V529M700.5 507V531M701.5 514V531M702.5 510V529M703.5 519V530M704.5 514V531M705.5 508V529M706.5 516V531M707.5 513V531M708.5 511V530M709.5 515V531M710.5 516V531M711.5 514V532M712.5 518V531M713.5 516V531M714.5 514V531M715.5 518V530M716.5 517V531M717.5 512V531M718.5 517V531M719.5 505V531M720.5 506V530M721.5 515V531M722.5 514V532M723.5 511V531M724.5 509V531M725.5 515V531M726.5 512V532M727.5 519V531M728.5 510V530M729.5 508V531M730.5 511V531M731.5 517V531M732.5 519V531M733.5 515V530M734.5 505V531M735.5 514V530M736.5 513V531M737.5 511V532M738.5 514V530M739.5 516V532M740.5 517V530M741.5 522V531M742.5 514V531M743.5 520V532M744.5 516V531M745.5 509V531M746.5 512V532M747.5 515V531M748.5 513V531M749.5 511V531M750.5 515V530M751.5 518V531M752.5 515V532M753.5 516V531M754.5 515V531M755.5 511V531M756.5 515V531M757.5 518V530M758.5 513V531M759.5 506V531M760.5 508V532M761.5 511V530M762.5 508V531M763.5 514V530M764.5 508V527M765.5 515V529M766.5 510V528M767.5 517V531M768.5 503V531M769.5 519V531M770.5 512V531M771.5 516V527M772.5 519V531M773.5 515V531M774.5 518V531M775.5 513V531M776.5 517V532M777.5 510V532M778.5 513V530M779.5 513V532M780.5 513V531M781.5 510V531M782.5 524V532M783.5 518V531M784.5 507V531M785.5 507V531M786.5 520V531M787.5 511V531M788.5 501V532M789.5 516V531M790.5 512V531M791.5 515V531M792.5 518V531M793.5 508V532M794.5 517V531M795.5 512V529M796.5 520V531M797.5 510V529M798.5 511V532M799.5 513V531M800.5 508V531M801.5 512V530M802.5 510V530M803.5 515V532M804.5 513V532M805.5 513V531M806.5 507V531M807.5 516V531M808.5 509V530M809.5 511V530M810.5 513V530M811.5 513V530M812.5 515V531M813.5 514V530M814.5 517V532M815.5 509V531M816.5 509V531M817.5 511V529M818.5 515V531M819.5 511V531M820.5 509V531M821.5 502V531M822.5 515V531M823.5 504V531M824.5 513V530M825.5 507V531M826.5 512V531M827.5 513V530M828.5 516V532M829.5 514V531M830.5 505V532M831.5 515V531M832.5 519V531M833.5 501V530M834.5 499V530M835.5 508V531M836.5 508V531M837.5 510V532M838.5 500V531M839.5 506V531M840.5 514V531M841.5 511V531M842.5 517V532M843.5 513V531M844.5 505V530M845.5 521V531M846.5 505V531M847.5 515V532M848.5 512V530M849.5 499V531M850.5 510V532M851.5 506V532M852.5 516V531M853.5 515V531M854.5 506V530M855.5 516V531M856.5 515V531M857.5 516V531M858.5 513V530M859.5 504V530M860.5 511V531M861.5 516V530M862.5 513V531M863.5 514V531M864.5 511V531M865.5 508V530M866.5 513V531M867.5 520V532M868.5 516V531M869.5 513V529M870.5 520V531M871.5 513V530M872.5 509V530M873.5 513V530M874.5 516V530M875.5 504V531M876.5 504V532M877.5 510V531M878.5 513V531M879.5 519V531M880.5 518V530M881.5 499V532M882.5 513V531M883.5 507V530M884.5 513V531M885.5 513V530M886.5 515V532M887.5 519V531M888.5 513V531M889.5 515V531M890.5 507V530M891.5 510V531M892.5 510V531M893.5 516V531M894.5 508V531M895.5 514V530M896.5 517V531M897.5 511V530M898.5 513V532M899.5 513V531M900.5 508V530M901.5 515V530M902.5 511V531M903.5 513V531M904.5 513V531M905.5 518V531M906.5 517V531M907.5 511V530M908.5 515V530M909.5 510V530M910.5 515V531M911.5 519V530M912.5 510V531M913.5 518V530M914.5 508V531M915.5 514V532M916.5 511V531M917.5 509V530M918.5 509V530M919.5 504V529M920.5 516V531M921.5 507V530M922.5 507V530M923.5 497V532M924.5 517V531M925.5 512V531M926.5 505V532M927.5 511V530M928.5 508V532M929.5 511V531M930.5 509V532M931.5 510V532M932.5 517V531M933.5 514V530M934.5 508V531M935.5 510V531M936.5 511V531M937.5 518V529M938.5 514V531M939.5 515V531M940.5 505V530M941.5 511V530M942.5 514V527M943.5 520V532M944.5 507V531M945.5 517V532M946.5 510V531M947.5 512V531M948.5 512V532M949.5 513V531M950.5 517V532M951.5 515V531M952.5 513V532M953.5 514V531M954.5 514V531M955.5 520V531M956.5 512V531M957.5 513V531M958.5 509V531M959.5 510V532M960.5 505V530M961.5 514V531M962.5 516V530M963.5 511V531" stroke="#000" stroke-width="1" fill="none" shape-rendering="crispEdges"/>
<path d="M156 476.5H566M565.5 476V348M573.5 348V477M573 476.5H964" stroke="#f00" stroke-width="1" fill="none" shape-rendering="crispEdges"/>
<path d="M156.5 348V532M1086.5 348V532M156 348.5H1087M156 531.5H1087M311.5 532V521M311.5 348V358M466.5 532V521M466.5 348V358M621.5 532V521M621.5 348V358M776.5 532V521M776.5 348V358M931.5 532V521M931.5 348V358M156 393.5H166M1087 393.5H1076M156 439.5H166M1087 439.5H1076M156 485.5H166M1087 485.5H1076" stroke="#000" stroke-width="1" fill="none" shape-rendering="crispEdges"/>
<g filter="url(#px)" stroke="#000" stroke-width="0.5">
<text x="156.5" y="560" text-anchor="middle" textLength="9" lengthAdjust="spacingAndGlyphs">0</text><text x="311.5" y="560" text-anchor="middle" textLength="36" lengthAdjust="spacingAndGlyphs">2000</text><text x="466.5" y="560" text-anchor="middle" textLength="36" lengthAdjust="spacingAndGlyphs">4000</text><text x="621.5" y="560" text-anchor="middle" textLength="36" lengthAdjust="spacingAndGlyphs">6000</text><text x="776.5" y="560" text-anchor="middle" textLength="36" lengthAdjust="spacingAndGlyphs">8000</text><text x="933.1" y="560" text-anchor="middle" textLength="45" lengthAdjust="spacingAndGlyphs">10000</text><text x="1088.1" y="560" text-anchor="middle" textLength="45" lengthAdjust="spacingAndGlyphs">12000</text>
<text x="150" y="357" text-anchor="end" textLength="18" lengthAdjust="spacingAndGlyphs">20</text><text x="150" y="402" text-anchor="end" textLength="18" lengthAdjust="spacingAndGlyphs">15</text><text x="150" y="448" text-anchor="end" textLength="18" lengthAdjust="spacingAndGlyphs">10</text><text x="150" y="494" text-anchor="end" textLength="9" lengthAdjust="spacingAndGlyphs">5</text><text x="150" y="540" text-anchor="end" textLength="9" lengthAdjust="spacingAndGlyphs">0</text>
<text x="619.5" y="333" text-anchor="middle" textLength="150" lengthAdjust="spacingAndGlyphs">Isig showing cut off</text>
<text transform="translate(119 441.5) rotate(-90)" text-anchor="middle" textLength="25" lengthAdjust="spacingAndGlyphs">Isig</text>
</g></g>
<g id="ax3">
<path d="M156.5 780V784M157.5 777V786M158.5 780V787M159.5 778V784M160.5 776V785M161.5 777V784M162.5 777V786M163.5 778V784M164.5 776V786M165.5 779V784M166.5 778V786M167.5 777V784M168.5 777V785M169.5 778V786M170.5 778V784M171.5 779V785M172.5 777V785M173.5 780V786M174.5 776V785M175.5 778V788M176.5 778V785M177.5 777V785M178.5 777V787M179.5 777V786M180.5 777V784M181.5 777V785M182.5 776V784M183.5 776V785M184.5 777V786M185.5 776V785M186.5 778V785M187.5 778V785M188.5 775V786M189.5 778V785M190.5 777V785M191.5 779V784M192.5 778V786M193.5 777V786M194.5 776V788M195.5 778V786M196.5 777V784M197.5 779V785M198.5 780V786M199.5 779V785M200.5 778V787M201.5 777V785M202.5 778V783M203.5 779V787M204.5 777V788M205.5 776V784M206.5 778V785M207.5 777V784M208.5 776V785M209.5 778V784M210.5 775V785M211.5 776V786M212.5 776V787M213.5 780V786M214.5 776V785M215.5 776V784M216.5 777V786M217.5 777V786M218.5 779V786M219.5 777V785M220.5 775V784M221.5 779V786M222.5 777V784M223.5 775V785M224.5 776V784M225.5 779V784M226.5 775V784M227.5 777V786M228.5 778V785M229.5 778V784M230.5 776V783M231.5 777V786M232.5 778V785M233.5 778V784M234.5 776V783M235.5 780V786M236.5 777V785M237.5 777V786M238.5 775V785M239.5 776V786M240.5 777V787M241.5 775V785M242.5 778V784M243.5 778V784M244.5 778V787M245.5 775V784M246.5 775V785M247.5 777V786M248.5 779V786M249.5 777V785M250.5 777V785M251.5 778V785M252.5 777V785M253.5 776V787M254.5 779V784M255.5 774V783M256.5 777V785M257.5 777V785M258.5 777V787M259.5 775V785M260.5 778V784M261.5 776V786M262.5 779V786M263.5 775V786M264.5 774V787M265.5 776V786M266.5 777V785M267.5 775V785M268.5 777V785M269.5 775V788M270.5 775V786M271.5 775V784M272.5 777V784M273.5 775V784M274.5 776V785M275.5 774V786M276.5 777V787M277.5 777V784M278.5 776V784M279.5 776V785M280.5 779V786M281.5 778V787M282.5 777V784M283.5 776V784M284.5 776V785M285.5 779V786M286.5 777V786M287.5 780V786M288.5 778V786M289.5 778V785M290.5 779V787M291.5 776V785M292.5 776V785M293.5 777V784M294.5 778V785M295.5 778V787M296.5 777V785M297.5 776V784M298.5 779V786M299.5 777V785M300.5 777V783M301.5 776V784M302.5 777V787M303.5 777V783M304.5 776V784M305.5 776V784M306.5 778V785M307.5 777V786M308.5 777V785M309.5 779V785M310.5 777V784M311.5 775V786M312.5 778V785M313.5 777V785M314.5 776V787M315.5 776V784M316.5 777V785M317.5 776V785M318.5 776V786M319.5 776V783M320.5 778V785M321.5 775V788M322.5 777V784M323.5 776V786M324.5 777V786M325.5 776V785M326.5 777V785M327.5 775V784M328.5 775V786M329.5 778V785M330.5 776V784M331.5 777V785M332.5 776V784M333.5 777V785M334.5 777V784M335.5 778V787M336.5 777V783M337.5 776V783M338.5 775V784M339.5 774V787M340.5 776V784M341.5 778V784M342.5 778V784M343.5 774V783M344.5 777V786M345.5 775V783M346.5 776V785M347.5 777V784M348.5 778V785M349.5 777V783M350.5 775V785M351.5 774V786M352.5 775V784M353.5 777V783M354.5 777V782M355.5 774V783M356.5 776V787M357.5 776V784M358.5 777V783M359.5 778V784M360.5 775V784M361.5 774V783M362.5 775V783M363.5 773V784M364.5 778V784M365.5 774V785M366.5 775V783M367.5 776V784M368.5 776V784M369.5 776V784M370.5 778V785M371.5 775V782M372.5 776V783M373.5 777V784M374.5 776V786M375.5 774V784M376.5 776V785M377.5 776V782M378.5 776V785M379.5 776V783M380.5 776V786M381.5 774V786M382.5 777V784M383.5 775V783M384.5 776V785M385.5 777V784M386.5 775V783M387.5 775V785M388.5 775V785M389.5 777V784M390.5 776V786M391.5 774V783M392.5 776V783M393.5 775V785M394.5 776V783M395.5 773V784M396.5 775V787M397.5 776V783M398.5 775V783M399.5 774V783M400.5 777V783M401.5 776V783M402.5 775V782M403.5 776V783M404.5 773V783M405.5 775V780M406.5 776V785M407.5 777V784M408.5 776V783M409.5 776V783M410.5 776V784M411.5 776V783M412.5 776V785M413.5 775V784M414.5 777V782M415.5 774V784M416.5 774V783M417.5 774V783M418.5 776V782M419.5 776V785M420.5 776V784M421.5 775V783M422.5 776V785M423.5 775V785M424.5 776V782M425.5 775V784M426.5 777V785M427.5 777V782M428.5 775V785M429.5 775V783M430.5 777V784M431.5 777V785M432.5 776V783M433.5 776V782M434.5 774V785M435.5 773V783M436.5 777V786M437.5 775V783M438.5 777V783M439.5 776V786M440.5 774V783M441.5 773V786M442.5 775V784M443.5 775V782M444.5 774V782M445.5 776V783M446.5 774V785M447.5 776V786M448.5 775V783M449.5 776V786M450.5 776V784M451.5 775V784M452.5 775V784M453.5 774V784M454.5 774V784M455.5 776V784M456.5 776V783M457.5 775V782M458.5 773V783M459.5 776V784M460.5 775V782M461.5 774V784M462.5 774V781M463.5 776V785M464.5 775V783M465.5 773V782M466.5 775V782M467.5 777V783M468.5 775V783M469.5 777V782M470.5 773V782M471.5 773V784M472.5 775V784M473.5 772V782M474.5 774V782M475.5 775V781M476.5 774V782M477.5 774V783M478.5 775V783M479.5 773V784M480.5 774V782M481.5 773V782M482.5 775V783M483.5 775V783M484.5 775V785M485.5 776V783M486.5 774V781M487.5 775V782M488.5 776V782M489.5 776V782M490.5 775V781M491.5 774V780M492.5 774V782M493.5 774V781M494.5 774V780M495.5 772V782M496.5 773V781M497.5 774V782M498.5 774V781M499.5 773V781M500.5 772V779M501.5 771V782M502.5 771V780M503.5 774V780M504.5 773V782M505.5 771V781M506.5 771V782M507.5 772V781M508.5 773V782M509.5 772V781M510.5 770V781M511.5 771V779M512.5 773V782M513.5 773V781M514.5 771V780M515.5 772V779M516.5 772V779M517.5 769V780M518.5 772V780M519.5 772V780M520.5 770V779M521.5 774V781M522.5 773V780M523.5 773V781M524.5 773V780M525.5 771V778M526.5 770V780M527.5 770V780M528.5 770V779M529.5 771V781M530.5 770V781M531.5 773V779M532.5 769V782M533.5 770V780M534.5 768V777M535.5 771V777M536.5 770V781M537.5 772V779M538.5 771V778M539.5 771V780M540.5 770V780M541.5 769V779M542.5 770V775M543.5 768V776M544.5 769V773M545.5 767V776M546.5 766V773M547.5 764V772M548.5 765V773M549.5 764V771M550.5 764V770M551.5 764V773M552.5 764V771M553.5 764V773M554.5 763V772M555.5 765V772M556.5 763V770M557.5 761V772M558.5 761V769M559.5 761V770M560.5 758V764M561.5 755V760M562.5 750V763M563.5 744V754M564.5 737V749M565.5 729V743M566.5 721V732M567.5 714V724M568.5 704V715M569.5 695V707M570.5 692V702M571.5 700V721M572.5 717V731M573.5 727V745M574.5 741V751M575.5 748V757M576.5 751V760M577.5 755V764M578.5 757V765M579.5 760V766M580.5 759V768M581.5 758V768M582.5 760V771M583.5 759V772M584.5 762V769M585.5 762V771M586.5 763V772M587.5 763V772M588.5 766V774M589.5 765V773M590.5 764V774M591.5 768V775M592.5 767V774M593.5 765V775M594.5 767V776M595.5 767V775M596.5 769V774M597.5 769V777M598.5 767V774M599.5 769V776M600.5 768V775M601.5 769V774M602.5 768V775M603.5 769V778M604.5 767V776M605.5 767V776M606.5 768V778M607.5 768V776M608.5 768V777M609.5 770V778M610.5 770V778M611.5 768V776M612.5 768V780M613.5 767V777M614.5 769V778M615.5 770V778M616.5 771V776M617.5 769V777M618.5 770V779M619.5 771V781M620.5 770V778M621.5 769V778M622.5 770V778M623.5 769V778M624.5 771V778M625.5 771V779M626.5 772V777M627.5 770V780M628.5 769V777M629.5 771V779M630.5 770V779M631.5 770V777M632.5 772V780M633.5 768V778M634.5 771V777M635.5 773V781M636.5 771V779M637.5 770V779M638.5 773V777M639.5 772V780M640.5 769V779M641.5 769V779M642.5 770V779M643.5 772V779M644.5 772V781M645.5 770V780M646.5 772V778M647.5 769V779M648.5 771V777M649.5 769V780M650.5 772V780M651.5 768V780M652.5 771V779M653.5 772V778M654.5 771V778M655.5 771V778M656.5 772V779M657.5 773V778M658.5 771V778M659.5 772V779M660.5 771V779M661.5 771V778M662.5 773V780M663.5 770V780M664.5 774V781M665.5 772V779M666.5 771V780M667.5 769V779M668.5 773V778M669.5 771V782M670.5 774V780M671.5 772V781M672.5 773V779M673.5 771V779M674.5 770V781M675.5 769V780M676.5 774V779M677.5 769V781M678.5 772V782M679.5 772V778M680.5 770V781M681.5 771V780M682.5 774V780M683.5 771V779M684.5 771V779M685.5 773V779M686.5 772V779M687.5 772V779M688.5 770V779M689.5 772V778M690.5 773V778M691.5 772V780M692.5 770V779M693.5 772V781M694.5 770V779M695.5 773V780M696.5 769V779M697.5 772V778M698.5 772V780M699.5 774V780M700.5 771V782M701.5 772V780M702.5 770V779M703.5 772V778M704.5 772V780M705.5 772V781M706.5 773V779M707.5 771V780M708.5 772V780M709.5 772V779M710.5 771V779M711.5 770V779M712.5 771V778M713.5 772V779M714.5 773V779M715.5 772V778M716.5 771V778M717.5 771V779M718.5 773V778M719.5 771V781M720.5 771V780M721.5 770V778M722.5 769V778M723.5 771V779M724.5 768V777M725.5 769V778M726.5 770V778M727.5 772V777M728.5 770V779M729.5 772V779M730.5 769V778M731.5 769V776M732.5 770V776M733.5 770V776M734.5 766V776M735.5 771V778M736.5 769V776M737.5 768V778M738.5 769V778M739.5 771V777M740.5 769V776M741.5 771V776M742.5 768V777M743.5 771V776M744.5 769V777M745.5 769V779M746.5 769V778M747.5 769V777M748.5 768V777M749.5 768V775M750.5 769V776M751.5 770V777M752.5 769V777M753.5 770V777M754.5 770V777M755.5 768V777M756.5 769V777M757.5 771V777M758.5 769V776M759.5 767V779M760.5 770V779M761.5 770V778M762.5 767V777M763.5 769V778M764.5 770V779M765.5 771V778M766.5 769V779M767.5 770V777M768.5 769V780M769.5 770V776M770.5 770V778M771.5 769V777M772.5 770V776M773.5 769V777M774.5 770V775M775.5 769V778M776.5 770V777M777.5 768V779M778.5 769V778M779.5 769V778M780.5 769V778M781.5 768V779M782.5 772V776M783.5 770V776M784.5 768V775M785.5 768V776M786.5 771V777M787.5 769V777M788.5 767V780M789.5 770V778M790.5 769V778M791.5 771V778M792.5 771V776M793.5 769V780M794.5 771V778M795.5 771V779M796.5 771V777M797.5 769V778M798.5 772V780M799.5 770V779M800.5 770V781M801.5 770V778M802.5 772V780M803.5 770V778M804.5 772V779M805.5 769V776M806.5 767V776M807.5 769V776M808.5 768V778M809.5 765V775M810.5 766V775M811.5 765V774M812.5 767V775M813.5 768V775M814.5 767V773M815.5 768V777M816.5 769V776M817.5 765V773M818.5 766V774M819.5 765V774M820.5 761V774M821.5 760V768M822.5 763V775M823.5 770V778M824.5 768V777M825.5 768V778M826.5 771V779M827.5 770V778M828.5 772V780M829.5 772V780M830.5 774V783M831.5 774V781M832.5 774V779M833.5 771V784M834.5 771V783M835.5 772V782M836.5 773V782M837.5 773V782M838.5 777V786M839.5 773V781M840.5 776V784M841.5 776V785M842.5 777V784M843.5 777V785M844.5 777V787M845.5 778V784M846.5 774V785M847.5 778V786M848.5 776V786M849.5 779V788M850.5 776V786M851.5 778V788M852.5 777V785M853.5 777V783M854.5 778V788M855.5 777V785M856.5 779V786M857.5 779V785M858.5 779V785M859.5 775V787M860.5 776V785M861.5 777V785M862.5 778V786M863.5 778V786M864.5 779V787M865.5 776V785M866.5 778V786M867.5 779V785M868.5 779V785M869.5 777V784M870.5 778V784M871.5 777V785M872.5 777V787M873.5 777V786M874.5 777V785M875.5 775V784M876.5 775V783M877.5 777V787M878.5 777V785M879.5 779V785M880.5 778V785M881.5 777V788M882.5 778V786M883.5 775V786M884.5 777V786M885.5 777V785M886.5 777V783M887.5 778V784M888.5 777V786M889.5 777V784M890.5 777V788M891.5 778V787M892.5 777V787M893.5 777V784M894.5 775V786M895.5 777V785M896.5 780V785M897.5 776V785M898.5 777V784M899.5 777V786M900.5 775V785M901.5 778V786M902.5 776V785M903.5 777V784M904.5 777V784M905.5 778V784M906.5 778V784M907.5 777V787M908.5 777V784M909.5 776V786M910.5 777V786M911.5 778V785M912.5 776V785M913.5 778V784M914.5 776V785M915.5 777V785M916.5 778V787M917.5 775V784M918.5 775V787M919.5 775V788M920.5 777V785M921.5 777V787M922.5 774V785M923.5 774V786M924.5 777V784M925.5 776V784M926.5 776V787M927.5 776V786M928.5 777V787M929.5 777V786M930.5 777V786M931.5 775V785M932.5 778V784M933.5 776V783M934.5 775V784M935.5 777V786M936.5 776V786M937.5 778V784M938.5 776V784M939.5 777V785M940.5 777V787M941.5 776V785M942.5 776V785M943.5 779V784M944.5 774V785M945.5 777V784M946.5 775V784M947.5 777V786M948.5 776V786M949.5 778V785M950.5 777V784M951.5 776V784M952.5 776V785M953.5 776V784M954.5 776V784M955.5 778V783M956.5 776V784M957.5 777V785M958.5 775V786M959.5 775V784M960.5 775V787M961.5 776V783M962.5 777V784M963.5 774V785" stroke="#000" stroke-width="1" fill="none" shape-rendering="crispEdges"/>
<path d="M156.5 618V802M1086.5 618V802M156 618.5H1087M156 801.5H1087M311.5 802V791M311.5 618V628M466.5 802V791M466.5 618V628M621.5 802V791M621.5 618V628M776.5 802V791M776.5 618V628M931.5 802V791M931.5 618V628M156 679.5H166M1087 679.5H1076M156 740.5H166M1087 740.5H1076" stroke="#000" stroke-width="1" fill="none" shape-rendering="crispEdges"/>
<g filter="url(#px)" stroke="#000" stroke-width="0.5">
<text x="156.5" y="830" text-anchor="middle" textLength="9" lengthAdjust="spacingAndGlyphs">0</text><text x="311.5" y="830" text-anchor="middle" textLength="36" lengthAdjust="spacingAndGlyphs">2000</text><text x="466.5" y="830" text-anchor="middle" textLength="36" lengthAdjust="spacingAndGlyphs">4000</text><text x="621.5" y="830" text-anchor="middle" textLength="36" lengthAdjust="spacingAndGlyphs">6000</text><text x="776.5" y="830" text-anchor="middle" textLength="36" lengthAdjust="spacingAndGlyphs">8000</text><text x="933.1" y="830" text-anchor="middle" textLength="45" lengthAdjust="spacingAndGlyphs">10000</text><text x="1088.1" y="830" text-anchor="middle" textLength="45" lengthAdjust="spacingAndGlyphs">12000</text>
<text x="150" y="627" text-anchor="end" textLength="21.5" lengthAdjust="spacingAndGlyphs">0.7</text><text x="150" y="688" text-anchor="end" textLength="21.5" lengthAdjust="spacingAndGlyphs">0.6</text><text x="150" y="749" text-anchor="end" textLength="21.5" lengthAdjust="spacingAndGlyphs">0.5</text><text x="150" y="810" text-anchor="end" textLength="21.5" lengthAdjust="spacingAndGlyphs">0.4</text>
<text x="620.5" y="603" text-anchor="middle" textLength="139" lengthAdjust="spacingAndGlyphs">Data showing RFI</text>
<text x="620.3" y="856" text-anchor="middle" textLength="123" lengthAdjust="spacingAndGlyphs">Sample Number</text>
</g></g>
</svg></body></html>
